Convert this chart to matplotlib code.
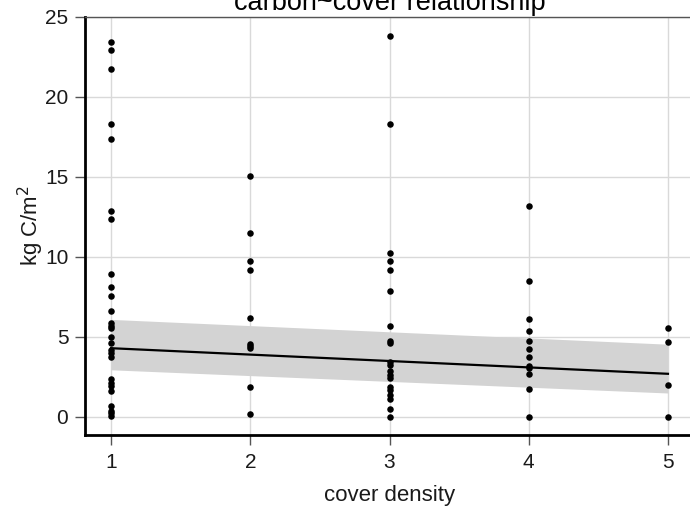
import numpy as np
import matplotlib
matplotlib.use("Agg")
import matplotlib.pyplot as plt

plt.rcParams['font.family'] = ['Liberation Sans', 'DejaVu Sans']

# carbon stock (kg C/m^2) per plot, grouped by cover density class
cover_1 = [23.46, 22.92, 21.77, 18.29, 17.36, 12.88, 12.39, 8.94, 8.15, 7.56,
           6.62, 5.86, 5.71, 5.58, 5.02, 4.65, 4.19, 3.98, 3.77, 2.35,
           2.14, 1.94, 1.64, 0.71, 0.39, 0.23, 0.08]
cover_2 = [15.04, 11.5, 9.77, 9.17, 6.21, 4.54, 4.44, 4.33, 1.88, 0.21]
cover_3 = [23.83, 18.29, 10.25, 9.73, 9.17, 7.9, 5.69, 4.77, 4.6, 3.42,
           3.25, 2.9, 2.6, 2.45, 1.9, 1.69, 1.4, 1.1, 0.5, 0.02]
cover_4 = [13.19, 8.5, 6.1, 5.37, 4.77, 4.25, 3.77, 3.2, 3.08, 2.67, 1.73, 0.02]
cover_5 = [5.54, 4.67, 2.0, 0.02]

# model fit (predicted carbon) and its confidence band at the cover extremes
fit_cover = [1, 5]
fit_carbon = [4.3, 2.7]
fit_lower = [2.95, 1.5]
fit_upper = [6.1, 4.55]

groups = [cover_1, cover_2, cover_3, cover_4, cover_5]
x = np.concatenate([[i + 1] * len(g) for i, g in enumerate(groups)]).astype(float)
y = np.concatenate(groups).astype(float)

W, H = 690, 509
fig = plt.figure(figsize=(W / 100, H / 100), dpi=100)
left, right, top, bottom = 85, 694, 17, 435
ax = fig.add_axes([left / W, 1 - bottom / H, (right - left) / W, (bottom - top) / H])

ax.fill_between(fit_cover, fit_lower, fit_upper, color='#d3d3d3', lw=0, zorder=2)
ax.plot(fit_cover, fit_carbon, color='black', lw=1.6, zorder=3)
ax.scatter(x, y, s=22, color='black', zorder=4, linewidths=0)

ax.set_xlim(0.813, 5.187)
ax.set_ylim(-1.125, 25)
ax.set_xticks([1, 2, 3, 4, 5])
ax.set_yticks([0, 5, 10, 15, 20, 25])
ax.grid(True, color='#d9d9d9', lw=1, zorder=0)
ax.set_axisbelow(True)

for side in ['left', 'bottom']:
    ax.spines[side].set_linewidth(2)
    ax.spines[side].set_color('black')
ax.spines['top'].set_linewidth(1)
ax.spines['top'].set_color('#555555')
ax.spines['right'].set_visible(False)

ax.tick_params(axis='both', direction='out', length=7, width=1, color='#555555',
               labelsize=15, labelcolor='#1a1a1a')
ax.tick_params(axis='y', pad=5)
ax.tick_params(axis='x', pad=6)

ax.set_xlabel('cover density', fontsize=16, color='#1a1a1a', labelpad=9)
ax.set_ylabel('kg C/m$^2$', fontsize=16, color='#1a1a1a', labelpad=-0.5)
fig.text(390 / W, 1 - 10 / H, 'carbon~cover relationship', ha='center', va='baseline',
         fontsize=19.5, color='black')

fig.savefig('out.png', dpi=100)
